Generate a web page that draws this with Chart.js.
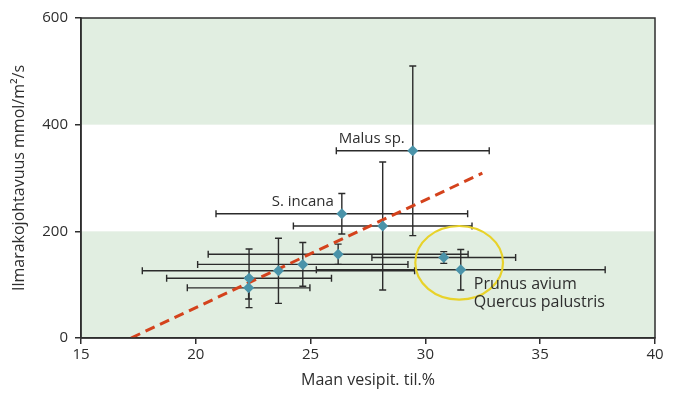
<!DOCTYPE html>
<html>
<head>
<meta charset="utf-8">
<script src="https://cdn.jsdelivr.net/npm/chart.js@4/dist/chart.umd.min.js"></script>
<style>
  body { margin: 0; background: #fff; }
  #wrap { width: 678px; height: 394px; }
</style>
</head>
<body>
<div id="wrap"><canvas id="myChart" width="678" height="394"></canvas></div>
<script>
// maan vesipitoisuus (til.%) ja ilmarakojohtavuus (mmol/m²/s), keskiarvot ja hajonnat
let moisture     = [29.45, 26.36, 28.14, 26.2, 30.8, 31.54, 24.66, 23.6, 22.32, 22.3];
let moistureErr  = [3.33, 5.48, 3.89, 5.66, 3.13, 6.29, 4.58, 5.93, 3.59, 2.67];
let conductance  = [351, 233, 210, 157, 151, 128, 138, 126, 112, 94];
let conductErr   = [159, 38, 120, 19, 11, 38, 41, 61, 55, 21];
let pointNames   = ["Malus sp.", "S. incana", "", "", "", "Prunus avium\nQuercus palustris", "", "", "", ""];

// regressiosuora
let trendX = [17.18, 32.48];
let trendY = [0, 309];

// korostettu alue (Prunus / Quercus)
let circleCenter = [31.47, 141];
let circleRadius = [1.91, 69];

let bands = [[0, 200], [400, 600]];
let xTicks = [15, 20, 25, 30, 35, 40];
let yTicks = [0, 200, 400, 600];

const FONT = "'Open Sans', sans-serif";
const INK = '#2e2e2e';

const bgBands = {
    id: 'bgBands',
    beforeDraw(chart) {
        const { ctx, chartArea: a, scales: { y } } = chart;
        ctx.save();
        ctx.fillStyle = '#e1eee1';
        bands.forEach(b => {
            let top = y.getPixelForValue(b[1]), bot = y.getPixelForValue(b[0]);
            ctx.fillRect(a.left, top, a.right - a.left, bot - top);
        });
        ctx.restore();
    }
};

const errorBars = {
    id: 'errorBars',
    beforeDatasetsDraw(chart) {
        const { ctx, scales: { x, y } } = chart;
        const cap = 3.5;
        ctx.save();
        ctx.strokeStyle = '#2b2b2b';
        ctx.lineWidth = 1.4;
        moisture.forEach((mx, i) => {
            let px = x.getPixelForValue(mx), py = y.getPixelForValue(conductance[i]);
            let x0 = x.getPixelForValue(mx - moistureErr[i]), x1 = x.getPixelForValue(mx + moistureErr[i]);
            let y0 = y.getPixelForValue(conductance[i] + conductErr[i]), y1 = y.getPixelForValue(conductance[i] - conductErr[i]);
            ctx.beginPath();
            ctx.moveTo(x0, py); ctx.lineTo(x1, py);
            ctx.moveTo(x0, py - cap); ctx.lineTo(x0, py + cap);
            ctx.moveTo(x1, py - cap); ctx.lineTo(x1, py + cap);
            ctx.moveTo(px, y0); ctx.lineTo(px, y1);
            ctx.moveTo(px - cap, y0); ctx.lineTo(px + cap, y0);
            ctx.moveTo(px - cap, y1); ctx.lineTo(px + cap, y1);
            ctx.stroke();
        });
        ctx.restore();
    }
};

const extras = {
    id: 'extras',
    afterDatasetsDraw(chart) {
        const { ctx, chartArea: a, scales: { x, y } } = chart;
        ctx.save();
        // kehys
        ctx.strokeStyle = INK;
        ctx.lineWidth = 1.5;
        ctx.strokeRect(a.left, a.top, a.right - a.left, a.bottom - a.top);

        // keltainen rengas
        let cx = x.getPixelForValue(circleCenter[0]), cy = y.getPixelForValue(circleCenter[1]);
        let rx = x.getPixelForValue(circleCenter[0] + circleRadius[0]) - cx;
        let ry = cy - y.getPixelForValue(circleCenter[1] + circleRadius[1]);
        ctx.strokeStyle = '#e8d22a';
        ctx.lineWidth = 2.2;
        ctx.beginPath();
        ctx.ellipse(cx, cy, rx, ry, 0, 0, Math.PI * 2);
        ctx.stroke();

        // lajien nimet
        ctx.fillStyle = INK;
        ctx.textBaseline = 'middle';
        pointNames.forEach((name, i) => {
            if (!name) return;
            let px = x.getPixelForValue(moisture[i]), py = y.getPixelForValue(conductance[i]);
            let lines = name.split('\n');
            if (lines.length > 1) {
                ctx.font = '16px ' + FONT;
                ctx.textAlign = 'left';
                lines.forEach((t, k) => ctx.fillText(t, px + 13, py + 15 + k * 17.5));
            } else {
                ctx.font = '15px ' + FONT;
                ctx.textAlign = 'right';
                ctx.fillText(name, px - 8, py - 12);
            }
        });
        ctx.restore();
    }
};

const ctx = document.getElementById('myChart').getContext('2d');
let myChart = new Chart(ctx, {
    type: 'scatter',
    data: {
        datasets: [
            {
                label: 'lajit',
                data: moisture.map((v, i) => ({ x: v, y: conductance[i] })),
                pointStyle: 'rectRot',
                pointRadius: 5.5,
                pointHoverRadius: 5.5,
                backgroundColor: '#4a93a9',
                borderColor: '#4a93a9',
                borderWidth: 0
            },
            {
                type: 'line',
                label: 'suora',
                data: trendX.map((v, i) => ({ x: v, y: trendY[i] })),
                borderColor: '#d4421c',
                borderWidth: 3,
                borderDash: [10, 6],
                pointRadius: 0,
                fill: false
            }
        ]
    },
    options: {
        responsive: false,
        animation: false,
        layout: { padding: { top: 18, right: 23, left: 0, bottom: 0 } },
        plugins: { legend: { display: false }, tooltip: { enabled: false } },
        scales: {
            x: {
                type: 'linear', min: 15, max: 40,
                afterBuildTicks: s => { s.ticks = xTicks.map(v => ({ value: v })); },
                afterFit: s => { s.height = 56; },
                grid: { drawOnChartArea: false, drawTicks: true, tickLength: 6, color: INK, lineWidth: 1.5 },
                border: { display: true, color: INK, width: 1.5 },
                ticks: { color: INK, font: { family: FONT, size: 15 }, padding: 2, maxRotation: 0 },
                title: { display: true, text: 'Maan vesipit. til.%', color: INK, font: { family: FONT, size: 16 }, padding: { top: 0, bottom: 4 } }
            },
            y: {
                type: 'linear', min: 0, max: 600,
                afterBuildTicks: s => { s.ticks = yTicks.map(v => ({ value: v })); },
                afterFit: s => { s.width = 81; },
                grid: { drawOnChartArea: false, drawTicks: true, tickLength: 6, color: INK, lineWidth: 1.5 },
                border: { display: true, color: INK, width: 1.5 },
                ticks: { color: INK, font: { family: FONT, size: 15 }, padding: 7 },
                title: { display: true, text: 'Ilmarakojohtavuus mmol/m²/s', color: INK, font: { family: FONT, size: 16 }, padding: { top: 10, bottom: 0 } }
            }
        }
    },
    plugins: [bgBands, errorBars, extras]
});
</script>
</body>
</html>
